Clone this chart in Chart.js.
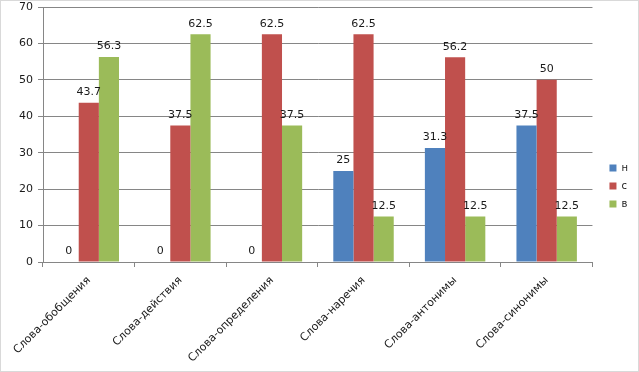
<!DOCTYPE html>
<html>
<head>
<meta charset="utf-8">
<script src="https://cdn.jsdelivr.net/npm/chart.js@4"></script>
<style>
  html, body { margin: 0; padding: 0; background: #fff; }
  #wrap { width: 637px; height: 370px; border: 1px solid #d9d9d9; }
</style>
</head>
<body>
<div id="wrap"><canvas id="chart" width="637" height="370"></canvas></div>
<script>
// Данные диаграммы
const categories = ['Слова-обобщения', 'Слова-действия', 'Слова-определения', 'Слова-наречия', 'Слова-антонимы', 'Слова-синонимы'];
const seriesN = [0, 0, 0, 25, 31.3, 37.5];
const seriesS = [43.7, 37.5, 62.5, 62.5, 56.2, 50];
const seriesV = [56.3, 62.5, 37.5, 12.5, 12.5, 12.5];
const yTicks = [0, 10, 20, 30, 40, 50, 60, 70];

const font = 'DejaVu Sans';

// подписи значений над столбцами
const valueLabels = {
    id: 'valueLabels',
    afterDatasetsDraw(chart) {
        const ctx = chart.ctx;
        ctx.save();
        ctx.font = '11px "' + font + '"';
        ctx.fillStyle = '#1a1a1a';
        ctx.textAlign = 'center';
        ctx.textBaseline = 'bottom';
        chart.data.datasets.forEach((ds, i) => {
            chart.getDatasetMeta(i).data.forEach((bar, j) => {
                ctx.fillText(String(ds.data[j]), bar.x, bar.y - 5);
            });
        });
        ctx.restore();
    }
};

new Chart(document.getElementById('chart'), {
    type: 'bar',
    data: {
        labels: categories,
        datasets: [
            { label: 'н', data: seriesN, backgroundColor: '#4F81BD' },
            { label: 'с', data: seriesS, backgroundColor: '#C0504D' },
            { label: 'в', data: seriesV, backgroundColor: '#9BBB59' }
        ]
    },
    options: {
        responsive: false,
        animation: false,
        layout: { padding: { top: 0, left: 0, right: 0, bottom: 0 } },
        datasets: { bar: { categoryPercentage: 0.66, barPercentage: 1 } },
        plugins: {
            legend: {
                position: 'right',
                labels: {
                    boxWidth: 7, boxHeight: 7, padding: 8,
                    color: '#222', font: { family: font, size: 10 }
                }
            },
            tooltip: { enabled: false }
        },
        scales: {
            x: {
                afterFit(scale) { scale.height = 109; },
                grid: { offset: true, drawOnChartArea: false, drawTicks: true, tickLength: 5, color: '#868686' },
                border: { color: '#868686' },
                ticks: {
                    minRotation: 45, maxRotation: 45, padding: 7,
                    color: '#1a1a1a', font: { family: font, size: 11 }
                }
            },
            y: {
                min: 0, max: 70,
                afterFit(scale) { scale.width = 42; scale.paddingTop = 6; },
                afterBuildTicks(scale) { scale.ticks = yTicks.map(v => ({ value: v })); },
                grid: { color: '#868686', tickLength: 5 },
                border: { color: '#868686' },
                ticks: { padding: 5, color: '#1a1a1a', font: { family: font, size: 11 } }
            },
            // пустой отступ между графиком и легендой
            gap: {
                position: 'right',
                afterFit(scale) { scale.width = 9; },
                grid: { display: false },
                border: { display: false },
                ticks: { display: false }
            }
        }
    },
    plugins: [valueLabels]
});
</script>
</body>
</html>
